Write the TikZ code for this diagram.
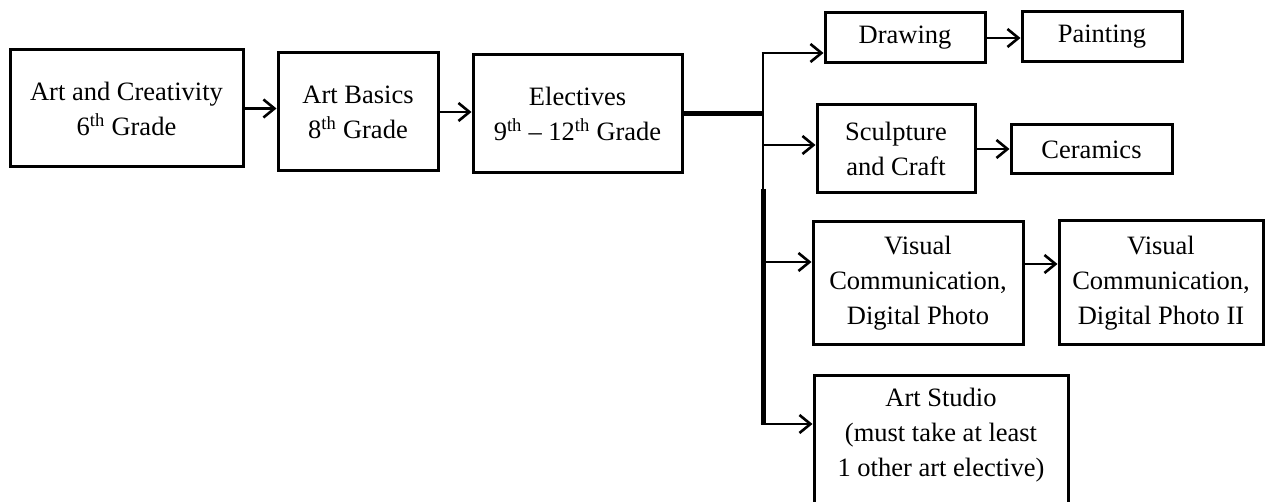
\documentclass[tikz,border=0pt]{standalone}
\usepackage{fontspec}
\setmainfont{Liberation Serif}
\usetikzlibrary{arrows.meta}
\begin{document}
\begin{tikzpicture}[x=1pt,y=-1pt,
  box/.style={draw=black,line width=3pt,fill=white,inner sep=0pt,align=center,font=\fontsize{26.5}{35}\selectfont},
  lbl/.style={inner sep=0pt,align=center,font=\fontsize{26.5}{35}\selectfont},
  arr/.style={line width=2.6pt,-{Straight Barb[length=11pt,width=18pt,line width=2.6pt]}},
  thin/.style={line width=2.6pt},
  thick/.style={line width=5pt}]
\useasboundingbox (0,0) rectangle (1275,502);
\clip (0,0) rectangle (1275,502);
\fill[white] (0,0) rectangle (1275,502);
\node[box,minimum width=233pt,minimum height=117pt] (art) at (126.5,108.5) {Art and Creativity\\6\textsuperscript{th} Grade};
\node[box,minimum width=160pt,minimum height=118pt] (basics) at (358,112) {Art Basics\\8\textsuperscript{th} Grade};
\node[box,minimum width=209pt,minimum height=118pt] (elect) at (577.5,114) {Electives\\9\textsuperscript{th} -- 12\textsuperscript{th} Grade};
\node[box,minimum width=160pt,minimum height=50pt] (drawing) at (905,38) {Drawing};
\node[box,minimum width=160pt,minimum height=50pt] (painting) at (1102,37) {Painting};
\node[box,minimum width=158pt,minimum height=88pt] (sculpt) at (896,149) {Sculpture\\and Craft};
\node[box,minimum width=161pt,minimum height=49pt] (ceram) at (1091.5,149.5) {Ceramics};
\node[box,minimum width=210pt,minimum height=123pt] (vis1) at (918,283.5) {Visual\\Communication,\\Digital Photo};
\node[box,minimum width=204pt,minimum height=124pt] (vis2) at (1161,283) {Visual\\Communication,\\Digital Photo II};
\node[box,minimum width=254pt,minimum height=160pt,anchor=north] (studio) at (941,374) {};
\node[lbl] (studiotext) at (941,435) {Art Studio\\(must take at least\\1 other art elective)};
\coordinate (ttop) at (763,53);
\coordinate (tmid) at (763,191);
\coordinate (tbot) at (763,424);
\coordinate (ysc) at (763,145);
\coordinate (yvis) at (763,262);
\coordinate (yvv) at (0,264);
\draw[arr] (art.east) -- (art.east -| basics.west);
\draw[arr] (basics.east) -- (basics.east -| elect.west);
\draw[thick] (elect.east) -- (elect.east -| ttop);
\draw[thin] (ttop) -- (tmid);
\draw[thick] ([yshift=2pt]tmid) -- ([yshift=-1pt]tbot);
\draw[arr] ([xshift=-1.3pt]ttop) -- (ttop -| drawing.west);
\draw[arr] (ysc) -- (ysc -| sculpt.west);
\draw[arr] (yvis) -- (yvis -| vis1.west);
\draw[arr] ([xshift=-2.5pt]tbot) -- (tbot -| studio.west);
\draw[arr] (drawing.east) -- (drawing.east -| painting.west);
\draw[arr] (sculpt.east) -- (sculpt.east -| ceram.west);
\draw[arr] (vis1.east |- yvv) -- (vis2.west |- yvv);
\end{tikzpicture}
\end{document}
